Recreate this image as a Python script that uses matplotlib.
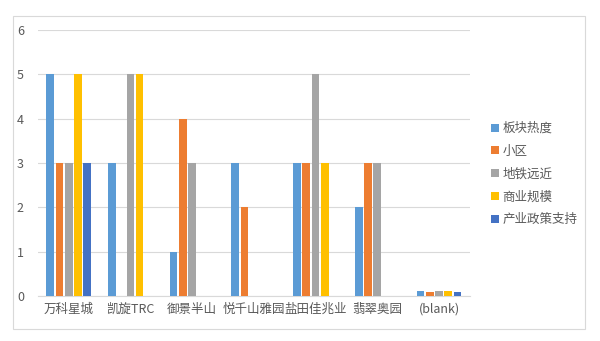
import matplotlib
matplotlib.use("Agg")
import matplotlib.pyplot as plt
import numpy as np
from matplotlib.patches import Rectangle

plt.rcParams['font.family'] = ['Noto Sans CJK SC', 'DejaVu Sans']

categories = ["万科星城", "凯旋TRC", "御景半山", "悦千山雅园", "盐田佳兆业", "翡翠奥园", "(blank)"]
series_names = ["板块热度", "小区", "地铁远近", "商业规模", "产业政策支持"]
bankuai = [5, 3, 1, 3, 3, 2, 0.12]
xiaoqu = [3, 0, 4, 2, 3, 3, 0.08]
ditie = [3, 5, 3, 0, 5, 3, 0.12]
shangye = [5, 5, 0, 0, 3, 0, 0.12]
chanye = [3, 0, 0, 0, 0, 0, 0.08]
colors = ["#5B9BD5", "#ED7D31", "#A5A5A5", "#FFC000", "#4472C4"]
yticks = [0, 1, 2, 3, 4, 5, 6]

fig = plt.figure(figsize=(6, 3.41), dpi=100)
ax = fig.add_axes([0.063, 0.132, 0.72, 0.78])

data = [bankuai, xiaoqu, ditie, shangye, chanye]
x = np.arange(len(categories))
stride = 0.15
width = 0.125
for i, (vals, name, c) in enumerate(zip(data, series_names, colors)):
    ax.bar(x + (i - 2) * stride, vals, width=width, color=c, label=name, zorder=3)

ax.set_xlim(-0.5, len(categories) - 0.5)
ax.set_ylim(0, 6)
ax.set_yticks(yticks)
ax.set_yticklabels([str(t) for t in yticks])
ax.set_xticks(x)
ax.set_xticklabels(categories)
ax.grid(axis='y', color='#D9D9D9', linewidth=0.8, zorder=0)
for s in ['top', 'right', 'left']:
    ax.spines[s].set_visible(False)
ax.spines['bottom'].set_color('#D9D9D9')
ax.tick_params(axis='both', length=0, colors='#595959', labelsize=9)
ax.tick_params(axis='x', pad=5)
ax.tick_params(axis='y', pad=10)

leg = fig.legend(loc='upper left', bbox_to_anchor=(0.8, 0.675), frameon=False,
                 handlelength=0.6, handleheight=0.6, handletextpad=0.3,
                 labelspacing=0.78, fontsize=9)
for t in leg.get_texts():
    t.set_color('#595959')

fig.patches.append(Rectangle((13/600, 1-329/341), (585-13)/600, (329-16)/341,
                             transform=fig.transFigure, fill=False,
                             edgecolor='#D9D9D9', linewidth=0.8))

fig.savefig("out.png", dpi=100)
